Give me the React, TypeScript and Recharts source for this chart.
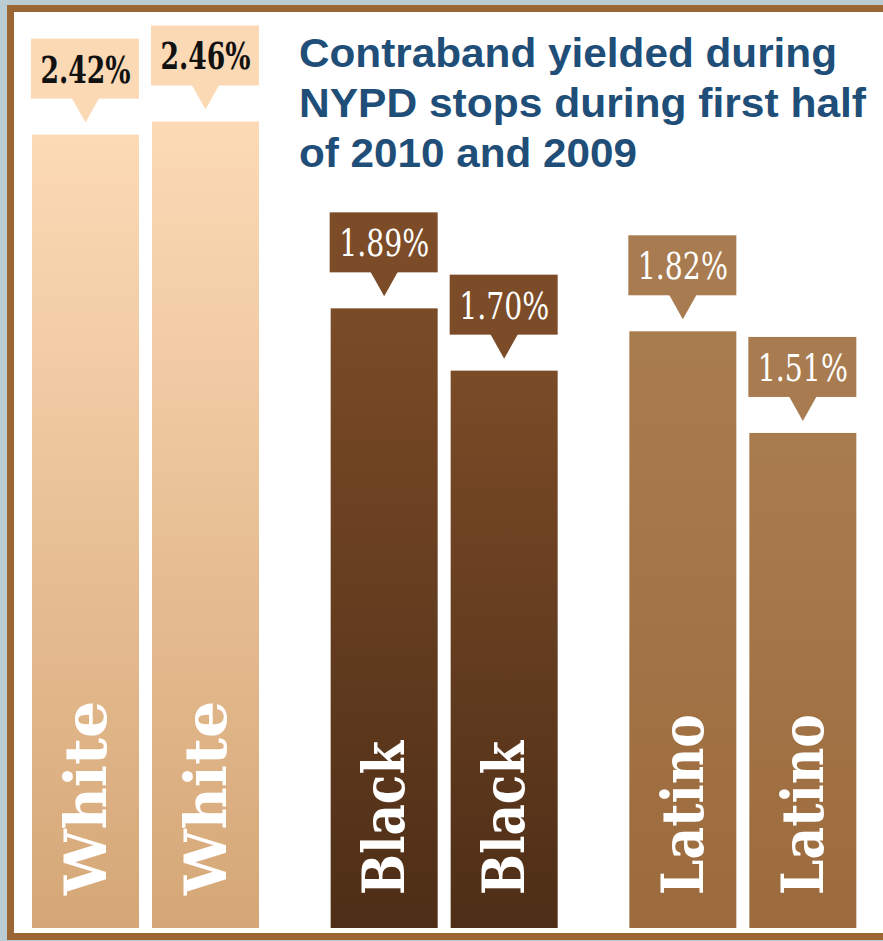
// Contraband yield of NYPD stops, first half of 2010 and 2009
import React from "react";
import { BarChart, Bar, XAxis, YAxis, LabelList } from "recharts";

const categories = ["White", "Black", "Latino"];
const values2010 = [2.42, 1.89, 1.82];
const values2009 = [2.46, 1.7, 1.51];
const titleLines = [
  "Contraband yielded during",
  "NYPD stops during first half",
  "of 2010 and 2009",
];

const data = categories.map((race, i) => ({
  race,
  y2010: values2010[i],
  y2009: values2009[i],
}));

// colours per group: gradient top / bottom, callout fill, callout text
const palette: Record<string, { top: string; bottom: string; box: string; text: string; weight: string }> = {
  White: { top: "#fcdab6", bottom: "#d5a777", box: "#fcd9b5", text: "#111111", weight: "bold" },
  Black: { top: "#7a4b27", bottom: "#4e2e17", box: "#7b4c27", text: "#ffffff", weight: "normal" },
  Latino: { top: "#a97c50", bottom: "#9c6b3d", box: "#a87b50", text: "#ffffff", weight: "normal" },
};
const nameLength: Record<string, number> = { White: 194, Black: 154, Latino: 181 };

const SLAB = "'DejaVu Serif Condensed', 'DejaVu Serif', serif";

const NameBar = (props: any) => {
  const { x, y, width, height, index } = props;
  const race = categories[index];
  const cx = x + width / 2;
  const tx = cx + 20;
  const ty = y + height - 33;
  return (
    <g>
      <rect x={x} y={y} width={width} height={height} fill={`url(#grad${race})`} />
      <text
        x={tx}
        y={ty}
        transform={`rotate(-90, ${tx}, ${ty})`}
        fill="#ffffff"
        fontFamily="'DejaVu Serif', serif"
        fontWeight="bold"
        fontSize={57}
        textLength={nameLength[race]}
        lengthAdjust="spacingAndGlyphs"
      >
        {race}
      </text>
    </g>
  );
};

const Callout = (props: any) => {
  const vb = props.viewBox || {};
  const x = props.x ?? vb.x;
  const y = props.y ?? vb.y;
  const width = props.width ?? vb.width;
  const { value, index } = props;
  const p = palette[categories[index]];
  const cx = x + width / 2;
  const boxBottom = y - 36;
  const boxTop = boxBottom - 60;
  const tip = y - 12;
  return (
    <g>
      <rect x={x - 1} y={boxTop} width={width + 1} height={60} fill={p.box} />
      <polygon points={`${cx - 14},${boxBottom - 1} ${cx + 14},${boxBottom - 1} ${cx},${tip}`} fill={p.box} />
      <text
        x={cx}
        y={boxTop + 44}
        textAnchor="middle"
        fill={p.text}
        fontFamily={SLAB}
        fontWeight={p.weight}
        fontSize={37}
        textLength={90}
        lengthAdjust="spacingAndGlyphs"
      >
        {`${Number(value).toFixed(2)}%`}
      </text>
    </g>
  );
};

export default function App() {
  return (
    <div
      style={{
        position: "absolute",
        left: 0,
        top: 0,
        width: 883,
        height: 941,
        overflow: "hidden",
        background: "#b9ccd3",
      }}
    >
      <div
        style={{
          position: "absolute",
          left: 7,
          top: 5,
          width: 910,
          height: 935,
          boxSizing: "border-box",
          border: "7px solid #9b6634",
          background: "#ffffff",
        }}
      />
      <div style={{ position: "absolute", left: -4, top: 0 }}>
        <BarChart
          width={896}
          height={941}
          data={data}
          margin={{ top: 10, right: 0, bottom: 13, left: 0 }}
          barSize={107}
          barGap={13}
        >
          <defs>
            {categories.map((race) => (
              <linearGradient key={race} id={`grad${race}`} x1="0" y1="0" x2="0" y2="1">
                <stop offset="0%" stopColor={palette[race].top} />
                <stop offset="100%" stopColor={palette[race].bottom} />
              </linearGradient>
            ))}
          </defs>
          <XAxis dataKey="race" hide />
          <YAxis hide domain={[0, 2.8]} />
          <Bar dataKey="y2010" name="2010" shape={NameBar} isAnimationActive={false}>
            <LabelList dataKey="y2010" content={Callout} />
          </Bar>
          <Bar dataKey="y2009" name="2009" shape={NameBar} isAnimationActive={false}>
            <LabelList dataKey="y2009" content={Callout} />
          </Bar>
        </BarChart>
      </div>
      <svg
        width={883}
        height={200}
        style={{ position: "absolute", left: 0, top: 0 }}
      >
        {titleLines.map((line, i) => (
          <text
            key={line}
            x={299}
            y={67 + i * 50}
            fill="#1f4e78"
            fontFamily="'Liberation Sans', Arial, sans-serif"
            fontWeight="bold"
            fontSize={40}
            textLength={[538, 567, 338][i]}
            lengthAdjust="spacingAndGlyphs"
          >
            {line}
          </text>
        ))}
      </svg>
    </div>
  );
}
